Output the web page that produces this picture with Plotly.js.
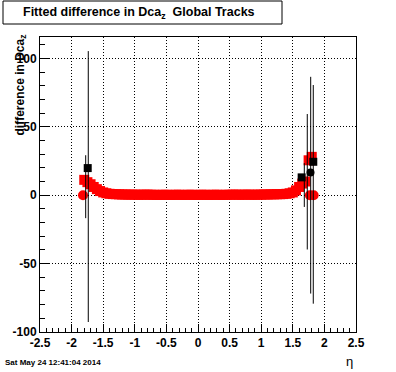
<!DOCTYPE html>
<html>
<head>
<meta charset="utf-8">
<script src="https://cdn.plot.ly/plotly-3.0.1.min.js"></script>
<style>html,body{margin:0;padding:0;background:#fff;}#plot{width:396px;height:372px;}</style>
</head>
<body>
<div id="plot"></div>
<script>
// ---- data ----
const redSqEta = [-1.8,-1.75,-1.7,-1.65,-1.6,-1.55,-1.5,-1.45,-1.4,-1.35,-1.3,-1.25,-1.2,-1.15,-1.1,-1.05,-1.0,-0.95,-0.9,-0.85,-0.8,-0.75,-0.7,-0.65,-0.6,-0.55,-0.5,-0.45,-0.4,-0.35,-0.3,-0.25,-0.2,-0.15,-0.1,-0.05,0.0,0.05,0.1,0.15,0.2,0.25,0.3,0.35,0.4,0.45,0.5,0.55,0.6,0.65,0.7,0.75,0.8,0.85,0.9,0.95,1.0,1.05,1.1,1.15,1.2,1.25,1.3,1.35,1.4,1.45,1.5,1.55,1.6,1.65,1.7,1.75,1.8];
const redSqVal = [11.2,9.5,8.0,6.0,4.4,3.0,2.0,1.4,1.0,0.8,0.7,0.6,0.5,0.5,0.4,0.4,0.4,0.3,0.3,0.4,0.4,0.3,0.3,0.2,0.2,0.3,0.3,0.2,0.2,0.3,0.3,0.2,0.2,0.3,0.3,0.2,0.2,0.3,0.3,0.2,0.2,0.3,0.3,0.2,0.2,0.3,0.3,0.4,0.4,0.3,0.3,0.4,0.4,0.3,0.3,0.4,0.4,0.5,0.5,0.6,0.6,0.7,0.7,0.8,1.0,1.4,2.0,3.5,6.0,8.5,10.0,25.5,28.0];
const redCircEta = [-1.82, 1.77, 1.83];
const redCircVal = [0, 0, 0];
const errEta = [-1.777, -1.736, 1.682, 1.729, 1.783, 1.824];
const errVal = [6.2, 6.3, 7.4, 9.8, 7.3, 0.6];
const errHalf = [23, 99, 16, 49.5, 79.2, 79.9];
const blackSqEta = [-1.745, 1.64, 1.824];
const blackSqVal = [19.8, 13.0, 24.4];
const blackCircEta = [1.78];
const blackCircVal = [16.6];
const xTickVals = [-2.5,-2,-1.5,-1,-0.5,0,0.5,1,1.5,2,2.5];
const xTickText = ['-2.5','-2','-1.5','-1','-0.5','0','0.5','1','1.5','2','2.5'];
const yTickVals = [-100,-50,0,50,100];
const yTickText = ['-100','-50','0','50','100'];

const FONT = 'Liberation Sans, Arial, sans-serif';
const W = 396, H = 372, ML = 40, MR = 40, MT = 37, MB = 40;
const PW = W - ML - MR, PH = H - MT - MB;
const px = x => (x - ML) / PW;
const py = y => (H - MB - y) / PH;

const traces = [
  {x: redSqEta, y: redSqVal, type: 'scatter', mode: 'markers',
   marker: {symbol: 'square', size: 10, color: '#ff0000'}, hoverinfo: 'skip'},
  {x: redCircEta, y: redCircVal, type: 'scatter', mode: 'markers',
   marker: {symbol: 'circle', size: 10, color: '#ff0000'}, hoverinfo: 'skip'},
  {x: errEta, y: errVal, type: 'scatter', mode: 'markers',
   marker: {symbol: 'square', size: 1, color: 'rgba(0,0,0,0)'},
   error_y: {type: 'data', array: errHalf, visible: true, color: '#000', thickness: 1, width: 0}, hoverinfo: 'skip'},
  {x: blackSqEta, y: blackSqVal, type: 'scatter', mode: 'markers',
   marker: {symbol: 'square', size: 8, color: '#000'}, hoverinfo: 'skip'},
  {x: blackCircEta, y: blackCircVal, type: 'scatter', mode: 'markers',
   marker: {symbol: 'circle', size: 8, color: '#000'}, hoverinfo: 'skip'}
];

const axisCommon = {
  showline: true, linecolor: '#000', linewidth: 1, mirror: true,
  ticks: 'inside', tickcolor: '#000', tickwidth: 1,
  showgrid: true, gridcolor: '#000', gridwidth: 1, griddash: '1px,2px',
  zeroline: false, tickmode: 'array',
  tickfont: {family: FONT, size: 12, weight: 'bold', color: '#000'}
};

const layout = {
  width: W, height: H,
  margin: {l: ML, r: MR, t: MT, b: MB, pad: 0},
  paper_bgcolor: '#fff', plot_bgcolor: '#fff',
  showlegend: false,
  xaxis: Object.assign({}, axisCommon, {
    range: [-2.5, 2.5], tickvals: xTickVals, ticktext: xTickText, ticklen: 8,
    minor: {tick0: 0, dtick: 0.1, ticks: 'inside', ticklen: 4, tickcolor: '#000', showgrid: false}
  }),
  yaxis: Object.assign({}, axisCommon, {
    range: [-100, 115.6], tickvals: yTickVals, ticktext: yTickText, ticklen: 9,
    minor: {tick0: 0, dtick: 10, ticks: 'inside', ticklen: 5, tickcolor: '#000', showgrid: false}
  }),
  shapes: [
    {type: 'rect', xref: 'paper', yref: 'paper', x0: px(3), x1: px(282), y0: py(24), y1: py(1),
     line: {color: '#000', width: 1}, fillcolor: '#fff'}
  ],
  annotations: [
    {text: 'Fitted difference in Dca<sub>z</sub>\u00a0\u00a0Global Tracks', xref: 'paper', yref: 'paper',
     x: px(139), y: py(12.5), xanchor: 'center', yanchor: 'middle', showarrow: false,
     font: {family: FONT, size: 12.5, weight: 'bold', color: '#000'}},
    {text: 'difference in Dca<sub>z</sub>', xref: 'paper', yref: 'paper', textangle: -90,
     x: px(20), y: py(33), xanchor: 'center', yanchor: 'top', showarrow: false,
     font: {family: FONT, size: 12, weight: 'bold', color: '#000'}},
    {text: 'η', xref: 'paper', yref: 'paper', x: px(349), y: py(361.5), xanchor: 'center', yanchor: 'middle',
     showarrow: false, font: {family: FONT, size: 13, color: '#000'}},
    {text: 'Sat May 24 12:41:04 2014', xref: 'paper', yref: 'paper', x: px(3), y: py(363), xanchor: 'left', yanchor: 'middle',
     showarrow: false, font: {family: FONT, size: 8, weight: 'bold', color: '#000'}}
  ]
};

Plotly.newPlot('plot', traces, layout, {staticPlot: true, displayModeBar: false});
</script>
</body>
</html>
